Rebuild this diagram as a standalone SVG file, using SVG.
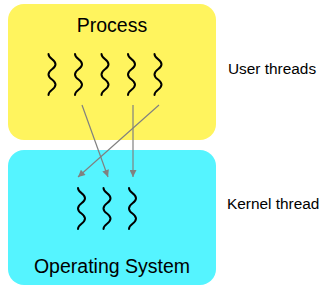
<svg xmlns="http://www.w3.org/2000/svg" width="331" height="291" viewBox="0 0 331 291">
<style>
.box{stroke:none}
.t{font-family:"Liberation Sans",Arial,sans-serif;fill:#000}
.big{font-size:19.5px;text-anchor:middle}
.lab{font-size:15.4px}
.sq{fill:none;stroke:#000;stroke-width:2;stroke-linecap:round}
.edge{stroke:#808080;stroke-width:1.2;fill:none}
</style>
<defs>
<path id="squig" d="M-3.5,0 c0,5.1 7,5.1 7,10.2 s-7,5.1 -7,10.2 s7,5.1 7,10.2 s-7,5.1 -7,10.4"/>
<marker id="ah" viewBox="0 0 10 10" refX="10" refY="5" markerWidth="9" markerHeight="7" markerUnits="userSpaceOnUse" orient="auto">
<path d="M0,0 L10,5 L0,10 z" fill="#808080"/>
</marker>
</defs>
<g id="process">
<rect class="box" x="8" y="4" width="208" height="136" rx="16" fill="#fff45e"/>
<text class="t big" x="112" y="32">Process</text>
</g>
<g id="os">
<rect class="box" x="8" y="150" width="208" height="135" rx="16" fill="#55f4ff"/>
<text class="t big" x="112" y="273">Operating System</text>
</g>
<g id="u1"><use href="#squig" class="sq" x="52" y="54"/></g>
<g id="u2"><use href="#squig" class="sq" x="78.5" y="54"/></g>
<g id="u3"><use href="#squig" class="sq" x="105" y="54"/></g>
<g id="u4"><use href="#squig" class="sq" x="131.5" y="54"/></g>
<g id="u5"><use href="#squig" class="sq" x="158" y="54"/></g>
<g id="k1"><use href="#squig" class="sq" x="81.5" y="188"/></g>
<g id="k2"><use href="#squig" class="sq" x="107" y="188"/></g>
<g id="k3"><use href="#squig" class="sq" x="132.5" y="188"/></g>
<g id="connectors">
<line class="edge" x1="82" y1="105" x2="108" y2="177" marker-end="url(#ah)"/>
<line class="edge" x1="159" y1="105" x2="78" y2="177" marker-end="url(#ah)"/>
<line class="edge" x1="133" y1="105" x2="133" y2="177" marker-end="url(#ah)"/>
</g>
<g id="labels">
<text class="t lab" x="228" y="74">User threads</text>
<text class="t lab" x="227" y="209">Kernel thread</text>
</g>
</svg>
